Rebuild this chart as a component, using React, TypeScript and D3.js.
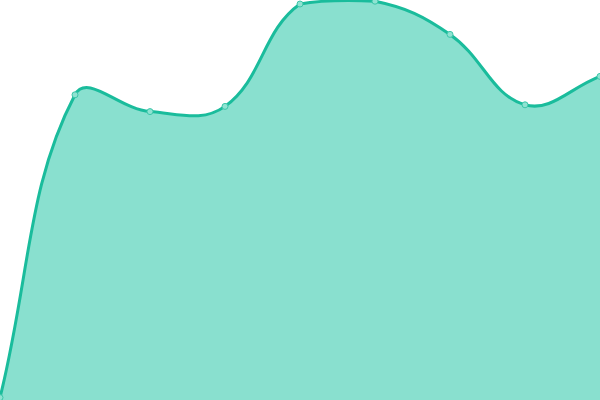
import React, { useEffect, useRef } from 'react';
import * as d3 from 'd3';

const xIndex = [0, 1, 2, 3, 4, 5, 6, 7, 8];
const values = [0.6, 76.3, 72.1, 73.4, 99.0, 99.7, 91.4, 73.8, 80.9];

const width = 600;
const height = 400;
const lineColor = '#1abc9c';
const fillColor = '#89e0cf';
const tension = 0.4;

// spline with tension, control points kept inside the plot area
function splineCurve(context: any) {
  let xs: number[] = [];
  let ys: number[] = [];
  let lineState = NaN;
  const clamp = (v: number, lo: number, hi: number) => Math.max(lo, Math.min(hi, v));

  return {
    areaStart() { lineState = 0; },
    areaEnd() { lineState = NaN; },
    lineStart() { xs = []; ys = []; },
    point(x: number, y: number) { xs.push(+x); ys.push(+y); },
    lineEnd() {
      const n = xs.length;
      if (n) {
        lineState ? context.lineTo(xs[0], ys[0]) : context.moveTo(xs[0], ys[0]);
        const cp1: [number, number][] = [];
        const cp2: [number, number][] = [];
        for (let i = 0; i < n; i++) {
          const pi = Math.max(i - 1, 0);
          const ni = Math.min(i + 1, n - 1);
          const d01 = Math.hypot(xs[i] - xs[pi], ys[i] - ys[pi]);
          const d12 = Math.hypot(xs[ni] - xs[i], ys[ni] - ys[i]);
          let s01 = d01 / (d01 + d12);
          let s12 = d12 / (d01 + d12);
          if (isNaN(s01)) s01 = 0;
          if (isNaN(s12)) s12 = 0;
          const fa = tension * s01;
          const fb = tension * s12;
          const dx = xs[ni] - xs[pi];
          const dy = ys[ni] - ys[pi];
          cp1.push([clamp(xs[i] - fa * dx, 0, width), clamp(ys[i] - fa * dy, 0, height)]);
          cp2.push([clamp(xs[i] + fb * dx, 0, width), clamp(ys[i] + fb * dy, 0, height)]);
        }
        for (let i = 1; i < n; i++) {
          context.bezierCurveTo(
            cp2[i - 1][0], cp2[i - 1][1],
            cp1[i][0], cp1[i][1],
            xs[i], ys[i]
          );
        }
      }
      if (lineState || (lineState !== 0 && n === 1)) context.closePath();
      lineState = 1 - lineState;
    }
  };
}

export default function App() {
  const svgRef = useRef<SVGSVGElement>(null);

  useEffect(() => {
    if (!svgRef.current) return;
    const svg = d3.select(svgRef.current);
    svg.selectAll('*').remove();

    const x = d3.scaleLinear()
      .domain([0, xIndex.length - 1])
      .range([0, width]);

    const y = d3.scaleLinear()
      .domain([0, 100])
      .range([height, 0]);

    const data = xIndex.map((d, i) => ({ i: d, v: values[i] }));

    const area = d3.area<{ i: number; v: number }>()
      .x(d => x(d.i))
      .y0(height)
      .y1(d => y(d.v))
      .curve(splineCurve as any);

    const line = d3.line<{ i: number; v: number }>()
      .x(d => x(d.i))
      .y(d => y(d.v))
      .curve(splineCurve as any);

    svg.append('path')
      .datum(data)
      .attr('fill', fillColor)
      .attr('d', area);

    svg.append('path')
      .datum(data)
      .attr('fill', 'none')
      .attr('stroke', lineColor)
      .attr('stroke-width', 3)
      .attr('stroke-linejoin', 'round')
      .attr('d', line);

    svg.selectAll('.dot')
      .data(data)
      .enter()
      .append('circle')
      .attr('class', 'dot')
      .attr('cx', d => x(d.i))
      .attr('cy', d => y(d.v))
      .attr('r', 3)
      .attr('fill', '#8fe3d2')
      .attr('stroke', '#3cc6a9')
      .attr('stroke-width', 1);
  }, []);

  return (
    <svg
      ref={svgRef}
      width={width}
      height={height}
      style={{ position: 'absolute', left: 0, top: 0 }}
    />
  );
}
